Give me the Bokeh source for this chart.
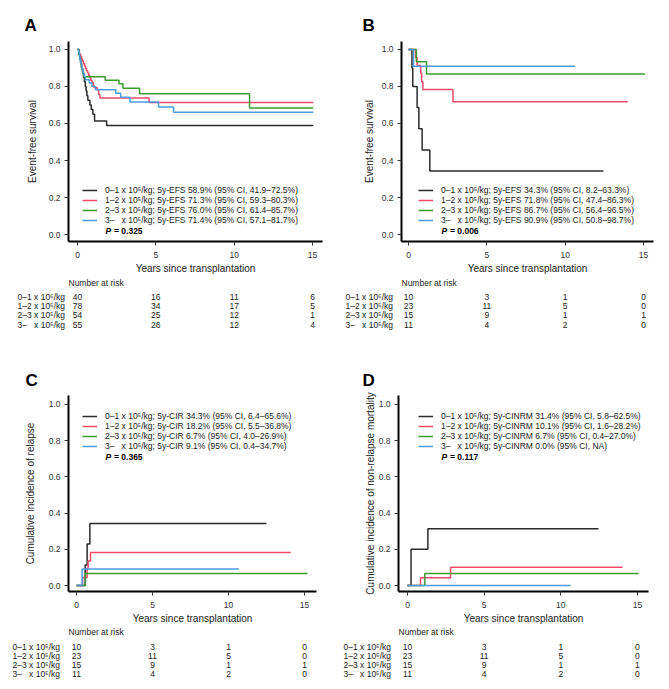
from bokeh.plotting import figure
from bokeh.layouts import column, row
from bokeh.models import Range1d, FixedTicker, PrintfTickFormatter, Legend, LegendItem, Label
from bokeh.core.properties import value
from bokeh.embed import file_html
from bokeh.resources import INLINE

FONT = "Liberation Sans"
COLORS = ["#2b2b2b", "#EE4B6A", "#3C9A35", "#4E9BE0"]

# ---------------- data ----------------
groups = ["0\u20131 x 10\u2075/kg", "1\u20132 x 10\u2075/kg", "2\u20133 x 10\u2075/kg",
          "3\u2013\u00a0\u00a0\u00a0x 10\u2075/kg"]
risk_times = [0, 5, 10, 15]
x_ticks = [0, 5, 10, 15]
y_ticks = [0.0, 0.2, 0.4, 0.6, 0.8, 1.0]
x_label = "Years since transplantation"

# Panel A: event-free survival (all patients)
a_t0 = [0, 0.08, 0.14, 0.20, 0.26, 0.32, 0.38, 0.44, 0.50, 0.55, 0.60, 0.66, 0.79, 0.88, 0.98, 1.09, 1.86, 15.05]
a_s0 = [1.0, 0.975, 0.95, 0.925, 0.90, 0.875, 0.85, 0.825, 0.80, 0.775, 0.75, 0.725, 0.70, 0.675, 0.65, 0.614, 0.589, 0.589]
a_t1 = [0, 0.12, 0.20, 0.26, 0.32, 0.38, 0.45, 0.51, 0.58, 0.65, 0.72, 0.79, 0.85, 0.92, 1.00, 1.05, 1.26, 1.35, 1.43, 4.57, 15.05]
a_s1 = [1.0, 0.974, 0.962, 0.949, 0.936, 0.923, 0.910, 0.897, 0.885, 0.872, 0.859, 0.846, 0.833, 0.821, 0.808, 0.795, 0.782, 0.756, 0.737, 0.713, 0.713]
a_t2 = [0, 0.08, 0.12, 0.16, 0.20, 0.24, 0.28, 0.34, 0.40, 1.77, 2.65, 2.90, 3.96, 10.98, 15.05]
a_s2 = [1.0, 0.981, 0.963, 0.944, 0.926, 0.907, 0.889, 0.870, 0.852, 0.834, 0.815, 0.790, 0.760, 0.684, 0.684]
a_t3 = [0, 0.08, 0.12, 0.16, 0.20, 0.25, 0.30, 0.36, 0.42, 0.50, 0.75, 0.92, 1.15, 2.44, 2.76, 3.35, 5.17, 6.13, 15.05]
a_s3 = [1.0, 0.982, 0.964, 0.945, 0.927, 0.909, 0.891, 0.873, 0.855, 0.836, 0.818, 0.800, 0.782, 0.763, 0.742, 0.716, 0.689, 0.661, 0.661]
a_legend = ["0\u20131 x 10\u2075/kg; 5y-EFS 58.9% (95% CI, 41.9\u201372.5%)",
            "1\u20132 x 10\u2075/kg; 5y-EFS 71.3% (95% CI, 59.3\u201380.3%)",
            "2\u20133 x 10\u2075/kg; 5y-EFS 76.0% (95% CI, 61.4\u201385.7%)",
            "3\u2013\u00a0\u00a0\u00a0x 10\u2075/kg; 5y-EFS 71.4% (95% CI, 57.1\u201381.7%)"]
a_p = "0.325"
a_risk0 = [40, 16, 11, 6]
a_risk1 = [78, 34, 17, 5]
a_risk2 = [54, 25, 12, 1]
a_risk3 = [55, 26, 12, 4]

# Panel B: event-free survival (subgroup)
b_t0 = [0, 0.22, 0.27, 0.55, 0.66, 0.87, 1.36, 12.44]
b_s0 = [1.0, 0.9, 0.8, 0.686, 0.571, 0.457, 0.343, 0.343]
b_t1 = [0, 0.45, 0.55, 0.78, 0.84, 0.92, 2.84, 13.99]
b_s1 = [1.0, 0.957, 0.913, 0.870, 0.826, 0.783, 0.718, 0.718]
b_t2 = [0, 0.50, 1.15, 15.1]
b_s2 = [1.0, 0.933, 0.867, 0.867]
b_t3 = [0, 0.32, 10.64]
b_s3 = [1.0, 0.909, 0.909]
b_legend = ["0\u20131 x 10\u2075/kg; 5y-EFS 34.3% (95% CI, 8.2\u201363.3%)",
            "1\u20132 x 10\u2075/kg; 5y-EFS 71.8% (95% CI, 47.4\u201386.3%)",
            "2\u20133 x 10\u2075/kg; 5y-EFS 86.7% (95% CI, 56.4\u201396.5%)",
            "3\u2013\u00a0\u00a0\u00a0x 10\u2075/kg; 5y-EFS 90.9% (95% CI, 50.8\u201398.7%)"]
b_p = "0.006"
b_risk0 = [10, 3, 1, 0]
b_risk1 = [23, 11, 5, 0]
b_risk2 = [15, 9, 1, 1]
b_risk3 = [11, 4, 2, 0]

# Panel C: cumulative incidence of relapse
c_t0 = [0, 0.57, 0.70, 0.88, 12.5]
c_s0 = [0.0, 0.114, 0.229, 0.343, 0.343]
c_t1 = [0, 0.40, 0.70, 0.76, 0.92, 14.1]
c_s1 = [0.0, 0.045, 0.091, 0.136, 0.182, 0.182]
c_t2 = [0, 0.59, 15.2]
c_s2 = [0.0, 0.067, 0.067]
c_t3 = [0, 0.37, 10.68]
c_s3 = [0.0, 0.091, 0.091]
c_legend = ["0\u20131 x 10\u2075/kg; 5y-CIR 34.3% (95% CI, 6.4\u201365.6%)",
            "1\u20132 x 10\u2075/kg; 5y-CIR 18.2% (95% CI, 5.5\u201336.8%)",
            "2\u20133 x 10\u2075/kg; 5y-CIR 6.7% (95% CI, 4.0\u201326.9%)",
            "3\u2013\u00a0\u00a0\u00a0x 10\u2075/kg; 5y-CIR 9.1% (95% CI, 0.4\u201334.7%)"]
c_p = "0.365"
c_risk0 = [10, 3, 1, 0]
c_risk1 = [23, 11, 5, 0]
c_risk2 = [15, 9, 1, 1]
c_risk3 = [11, 4, 2, 0]

# Panel D: cumulative incidence of non-relapse mortality
d_t0 = [0, 0.23, 1.33, 12.46]
d_s0 = [0.0, 0.20, 0.314, 0.314]
d_t1 = [0, 0.85, 2.81, 14.03]
d_s1 = [0.0, 0.043, 0.101, 0.101]
d_t2 = [0, 1.13, 15.08]
d_s2 = [0.0, 0.067, 0.067]
d_t3 = [0, 10.65]
d_s3 = [0.0, 0.0]
d_legend = ["0\u20131 x 10\u2075/kg; 5y-CINRM 31.4% (95% CI, 5.8\u201362.5%)",
            "1\u20132 x 10\u2075/kg; 5y-CINRM 10.1% (95% CI, 1.6\u201328.2%)",
            "2\u20133 x 10\u2075/kg; 5y-CINRM 6.7% (95% CI, 0.4\u201327.0%)",
            "3\u2013\u00a0\u00a0\u00a0x 10\u2075/kg; 5y-CINRM 0.0% (95% CI, NA)"]
d_p = "0.117"
d_risk0 = [10, 3, 1, 0]
d_risk1 = [23, 11, 5, 0]
d_risk2 = [15, 9, 1, 1]
d_risk3 = [11, 4, 2, 0]

# ---------------- layout (page pixels) ----------------
LAY = {
    "A": dict(fig_left=0, fig_right=335, fig_top=0, fig_bottom=276, frame_left=68, frame_right=322,
              frame_top=41, frame_bottom=243, zero_x=77, ppy=15.67, y0=236, y1=49, title_x=24,
              title_standoff=14, ylab_standoff=8,
              tab_top=276, tab_bottom=340, header_y=282.3, row1_y=296, row_dy=9.43, label_x=17,
              leg_x=82, leg_bottom=227, text_x=105, p_y=232),
    "B": dict(fig_left=335, fig_right=668, fig_top=0, fig_bottom=276, frame_left=401, frame_right=653,
              frame_top=41, frame_bottom=243, zero_x=408, ppy=15.67, y0=236, y1=49, title_x=362,
              title_standoff=14, ylab_standoff=4,
              tab_top=276, tab_bottom=340, header_y=282.3, row1_y=296, row_dy=9.43, label_x=345,
              leg_x=418, leg_bottom=227, text_x=441, p_y=232),
    "C": dict(fig_left=0, fig_right=335, fig_top=340, fig_bottom=626, frame_left=68, frame_right=316,
              frame_top=395, frame_bottom=592, zero_x=76, ppy=15.2, y0=586, y1=404, title_x=25,
              title_standoff=12, ylab_standoff=10,
              tab_top=626, tab_bottom=688, header_y=631.7, row1_y=646, row_dy=9.33, label_x=12,
              leg_x=82, leg_bottom=451.5, text_x=105, p_y=456.7),
    "D": dict(fig_left=335, fig_right=668, fig_top=340, fig_bottom=626, frame_left=398, frame_right=648,
              frame_top=395, frame_bottom=592, zero_x=407, ppy=15.33, y0=586, y1=404, title_x=362,
              title_standoff=12, ylab_standoff=0,
              tab_top=626, tab_bottom=688, header_y=631.7, row1_y=646, row_dy=9.33, label_x=343,
              leg_x=418, leg_bottom=451.5, text_x=441, p_y=456.7),
}


def chart(L, title, ylabel, curves, labels, pval):
    ppy = L["ppy"]
    pyu = L["y0"] - L["y1"]
    xr = Range1d((L["frame_left"] - L["zero_x"]) / ppy, (L["frame_right"] - L["zero_x"]) / ppy)
    yr = Range1d(-(L["frame_bottom"] - L["y0"]) / pyu, 1 + (L["y1"] - L["frame_top"]) / pyu)
    p = figure(width=L["fig_right"] - L["fig_left"], height=L["fig_bottom"] - L["fig_top"],
               x_range=xr, y_range=yr, title=title, toolbar_location=None, output_backend="svg",
               min_border_left=L["frame_left"] - L["fig_left"],
               min_border_right=L["fig_right"] - L["frame_right"],
               min_border_top=L["frame_top"] - L["fig_top"],
               min_border_bottom=L["fig_bottom"] - L["frame_bottom"])
    p.outline_line_color = None
    p.grid.visible = False
    p.background_fill_color = "white"
    p.border_fill_color = "white"
    # panel letter
    p.title.text_font = FONT
    p.title.text_font_size = "17px"
    p.title.text_font_style = "bold"
    p.title.text_color = "black"
    p.title.align = "left"
    p.title.offset = L["title_x"] - L["frame_left"]
    p.title.standoff = L["title_standoff"]
    # axes
    for ax in (p.xaxis[0], p.yaxis[0]):
        ax.axis_line_width = 2
        ax.axis_line_color = "black"
        ax.major_tick_line_color = "#333333"
        ax.major_tick_out = 4
        ax.major_tick_in = 0
        ax.minor_tick_line_color = None
        ax.major_label_text_font = FONT
        ax.major_label_text_font_size = "8.5px"
        ax.major_label_text_color = "#333333"
        ax.axis_label_text_font = FONT
        ax.axis_label_text_font_size = "10px"
        ax.axis_label_text_font_style = "normal"
        ax.axis_label_text_color = "#222222"
    p.xaxis.ticker = FixedTicker(ticks=x_ticks)
    p.yaxis.ticker = FixedTicker(ticks=y_ticks)
    p.yaxis.formatter = PrintfTickFormatter(format="%.1f")
    p.xaxis.axis_label = x_label
    p.yaxis.axis_label = ylabel
    p.xaxis.major_label_standoff = 6
    p.xaxis.axis_label_standoff = 2
    p.yaxis.major_label_standoff = 4
    p.yaxis.axis_label_standoff = L["ylab_standoff"]
    # curves
    items = []
    for (t, s), col, lab in zip(curves, COLORS, labels):
        r = p.step(t, s, mode="after", line_color=col, line_width=1.5)
        items.append(LegendItem(label=lab, renderers=[r]))
    leg = Legend(items=items, location=(L["leg_x"] - L["frame_left"], L["frame_bottom"] - L["leg_bottom"]),
                 padding=0, margin=0, spacing=0, glyph_width=15, glyph_height=10, label_height=10,
                 label_standoff=8, label_text_font=FONT, label_text_font_size="8.5px",
                 label_text_color="#222222", background_fill_alpha=0, border_line_alpha=0)
    p.add_layout(leg)
    px = (L["text_x"] - L["zero_x"]) / ppy
    py = (L["y0"] - L["p_y"]) / pyu
    p.add_layout(Label(x=px, y=py, text="P", text_font=FONT, text_font_size="8.5px",
                       text_font_style="bold italic", text_color="black", text_baseline="middle"))
    p.add_layout(Label(x=px, y=py, x_offset=8.5, text="= " + pval, text_font=FONT, text_font_size="8.5px",
                       text_font_style="bold", text_color="black", text_baseline="middle"))
    return p


def table(L, risks):
    ppy = L["ppy"]
    dy = L["row_dy"]
    xr = Range1d((L["fig_left"] - L["zero_x"]) / ppy, (L["fig_right"] - L["zero_x"]) / ppy)
    yr = Range1d(1 + (L["tab_bottom"] - L["row1_y"]) / dy, 1 - (L["row1_y"] - L["tab_top"]) / dy)
    t = figure(width=L["fig_right"] - L["fig_left"], height=L["tab_bottom"] - L["tab_top"],
               x_range=xr, y_range=yr, x_axis_location=None, y_axis_location=None,
               toolbar_location=None, output_backend="svg", min_border=0,
               min_border_left=0, min_border_right=0, min_border_top=0, min_border_bottom=0)
    t.outline_line_color = None
    t.grid.visible = False
    t.background_fill_color = "white"
    t.border_fill_color = "white"
    common = dict(text_font=value(FONT), text_font_size=value("8.5px"), text_color="#222222",
                  text_baseline="middle")
    t.text(x=[(L["frame_left"] - L["zero_x"]) / ppy], y=[1 - (L["row1_y"] - L["header_y"]) / dy],
           text=["Number at risk"], text_align="left", **common)
    for i, (g, counts) in enumerate(zip(groups, risks)):
        t.text(x=[(L["label_x"] - L["zero_x"]) / ppy], y=[i + 1], text=[g], text_align="left", **common)
        t.text(x=risk_times, y=[i + 1] * len(risk_times), text=[str(c) for c in counts],
               text_align="center", **common)
    return t


pA = chart(LAY["A"], "A", "Event-free survival",
           [(a_t0, a_s0), (a_t1, a_s1), (a_t2, a_s2), (a_t3, a_s3)], a_legend, a_p)
pB = chart(LAY["B"], "B", "Event-free survival",
           [(b_t0, b_s0), (b_t1, b_s1), (b_t2, b_s2), (b_t3, b_s3)], b_legend, b_p)
pC = chart(LAY["C"], "C", "Cumulative incidence of relapse",
           [(c_t0, c_s0), (c_t1, c_s1), (c_t2, c_s2), (c_t3, c_s3)], c_legend, c_p)
pD = chart(LAY["D"], "D", "Cumulative incidence of non-relapse mortality",
           [(d_t0, d_s0), (d_t1, d_s1), (d_t2, d_s2), (d_t3, d_s3)], d_legend, d_p)

tA = table(LAY["A"], [a_risk0, a_risk1, a_risk2, a_risk3])
tB = table(LAY["B"], [b_risk0, b_risk1, b_risk2, b_risk3])
tC = table(LAY["C"], [c_risk0, c_risk1, c_risk2, c_risk3])
tD = table(LAY["D"], [d_risk0, d_risk1, d_risk2, d_risk3])

page = column(row(pA, pB), row(tA, tB), row(pC, pD), row(tC, tD))

open("out.html", "w").write(file_html(page, INLINE))
